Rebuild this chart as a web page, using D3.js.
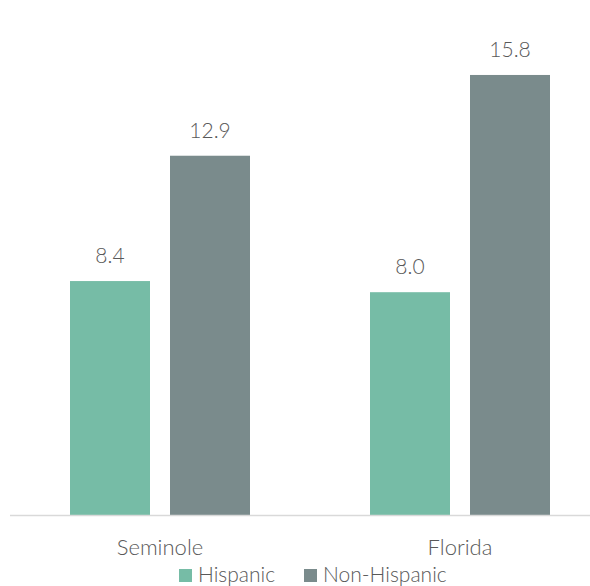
<!DOCTYPE html>
<html>
<head>
<meta charset="utf-8">
<script src="https://cdn.jsdelivr.net/npm/d3@7"></script>
<style>
    body { margin: 0; background: #fff; }
    text { font-family: Lato, "Open Sans", sans-serif; font-weight: 300; fill: #595959; }
</style>
</head>
<body>
<div id="chart"></div>
<script>
const categories = ["Seminole", "Florida"];
const seriesNames = ["Hispanic", "Non-Hispanic"];
const hispanic = [8.4, 8.0];
const nonHispanic = [12.9, 15.8];
const colors = ["#76bca6", "#7a8b8c"];

const width = 590;
const height = 586;
const baseY = 515;

const data = categories.map((c, i) => ({
    category: c,
    values: [
        { key: seriesNames[0], value: hispanic[i] },
        { key: seriesNames[1], value: nonHispanic[i] }
    ]
}));

const svg = d3.select("#chart")
    .append("svg")
    .attr("width", width)
    .attr("height", height);

const x0 = d3.scaleBand()
    .domain(categories)
    .range([10, 610])
    .paddingInner(0.4)
    .paddingOuter(0.2);

const x1 = d3.scaleBand()
    .domain(seriesNames)
    .range([0, x0.bandwidth()])
    .paddingInner(0.2);

const y = d3.scaleLinear()
    .domain([0, 18])
    .range([baseY, baseY - 18 * 27.85]);

const color = d3.scaleOrdinal().domain(seriesNames).range(colors);

const groups = svg.selectAll("g.group")
    .data(data)
    .enter()
    .append("g")
    .attr("class", "group")
    .attr("transform", d => `translate(${x0(d.category)},0)`);

groups.selectAll("rect")
    .data(d => d.values)
    .enter()
    .append("rect")
    .attr("x", d => x1(d.key))
    .attr("y", d => y(d.value))
    .attr("width", x1.bandwidth())
    .attr("height", d => y(0) - y(d.value))
    .attr("fill", d => color(d.key));

// value labels
groups.selectAll("text.value")
    .data(d => d.values)
    .enter()
    .append("text")
    .attr("class", "value")
    .attr("x", d => x1(d.key) + x1.bandwidth() / 2)
    .attr("y", d => y(d.value) - 18)
    .attr("text-anchor", "middle")
    .attr("font-size", "21px")
    .text(d => d.value.toFixed(1));

// baseline
svg.append("line")
    .attr("x1", 10)
    .attr("x2", width)
    .attr("y1", y(0) + 0.5)
    .attr("y2", y(0) + 0.5)
    .attr("stroke", "#d9d9d9")
    .attr("stroke-width", 1.5);

// category labels
const xAxis = svg.append("g")
    .attr("transform", `translate(0,${baseY})`)
    .call(d3.axisBottom(x0).tickSize(0).tickPadding(40));
xAxis.select(".domain").remove();
xAxis.selectAll("text")
    .attr("font-size", "22px")
    .attr("font-family", null)
    .attr("dy", 0);

// legend
const legendItems = [
    { key: seriesNames[0], x: 179 },
    { key: seriesNames[1], x: 304 }
];
const legend = svg.append("g").attr("class", "legend");
const li = legend.selectAll("g")
    .data(legendItems)
    .enter()
    .append("g")
    .attr("transform", d => `translate(${d.x},569)`);
li.append("rect")
    .attr("width", 13)
    .attr("height", 13)
    .attr("fill", d => color(d.key));
li.append("text")
    .attr("x", 19)
    .attr("y", 13)
    .attr("font-size", "21px")
    .text(d => d.key);
</script>
</body>
</html>
